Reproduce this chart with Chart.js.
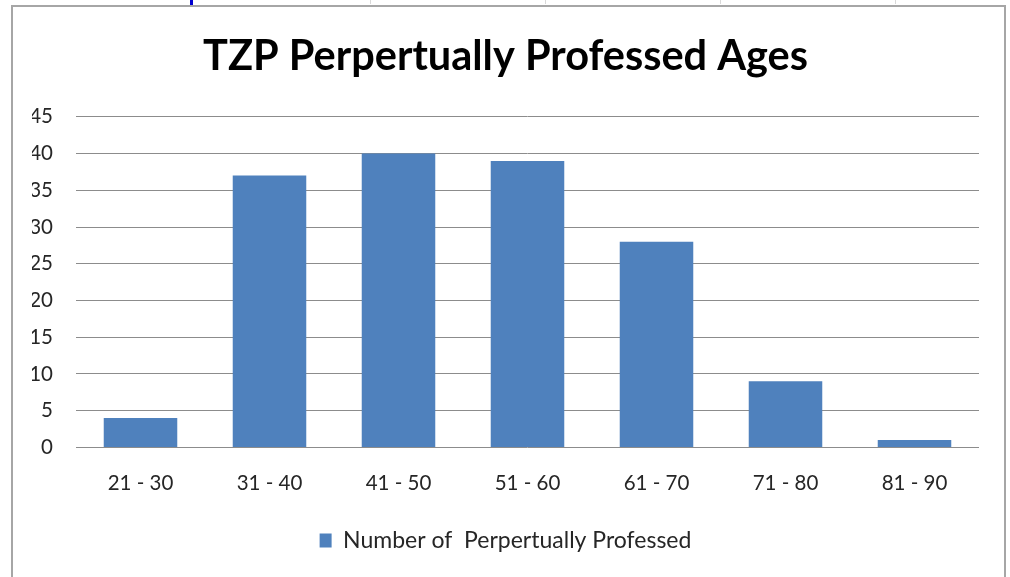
<!DOCTYPE html>
<html>
<head>
<meta charset="utf-8">
<script src="https://cdn.jsdelivr.net/npm/chart.js@4.4.1/dist/chart.umd.min.js"></script>
<style>
  html, body { margin: 0; padding: 0; background: #ffffff; width: 1010px; height: 577px; overflow: hidden; }
  #frame { position: absolute; left: 11px; top: 5px; width: 991px; height: 600px;
           border: 2px solid #a6a6a6; border-bottom: none; background: #ffffff; }
  .cell-h { position: absolute; top: 0; height: 4px; width: 1px; background: #d9d9d9; }
  #wrap { position: absolute; left: 0; top: 0; width: 1010px; height: 577px; }
</style>
</head>
<body>
<div class="cell-h" style="left:370px"></div>
<div class="cell-h" style="left:545px"></div>
<div class="cell-h" style="left:720px"></div>
<div class="cell-h" style="left:895px"></div>
<div style="position:absolute;left:190px;top:0;width:3px;height:5px;background:#0000d0"></div>
<div id="frame"></div>
<div id="wrap"><canvas id="c" width="1010" height="577"></canvas></div>
<script>
const categories = ["21 - 30", "31 - 40", "41 - 50", "51 - 60", "61 - 70", "71 - 80", "81 - 90"];
const seriesName = "Number of  Perpertually Professed";
const values = [4, 37, 40, 39, 28, 9, 1];
const yTicks = [0, 5, 10, 15, 20, 25, 30, 35, 40, 45];
const chartTitle = "TZP Perpertually Professed Ages";

const FONT = "Lato, 'Noto Sans', sans-serif";

new Chart(document.getElementById('c'), {
  type: 'bar',
  data: {
    labels: categories,
    datasets: [{
      label: seriesName,
      data: values,
      backgroundColor: '#4f81bd',
      borderWidth: 0,
      categoryPercentage: 1.0,
      barPercentage: 0.57
    }]
  },
  options: {
    responsive: false,
    animation: false,
    devicePixelRatio: 1,
    layout: { padding: { left: 32, right: 31, top: 0, bottom: 15 } },
    plugins: {
      title: {
        display: true,
        text: chartTitle,
        color: '#000000',
        font: { family: FONT, size: 41.5, weight: 'bold' },
        padding: { top: 32, bottom: 35 }
      },
      legend: {
        display: true,
        position: 'bottom',
        labels: {
          color: '#262626',
          font: { family: FONT, size: 23 },
          boxWidth: 12,
          boxHeight: 14,
          padding: 9
        }
      },
      tooltip: { enabled: false }
    },
    scales: {
      x: {
        grid: { display: false, drawTicks: false },
        border: { display: false },
        ticks: { color: '#262626', font: { family: FONT, size: 20.5 }, padding: 24 }
      },
      y: {
        min: 0, max: 45,
        afterBuildTicks: (s) => { s.ticks = yTicks.map(v => ({ value: v })); },
        afterFit: (s) => { s.width = 44; },
        grid: { color: '#8c8c8c', lineWidth: 1, drawTicks: false },
        border: { display: false },
        ticks: { color: '#262626', font: { family: FONT, size: 20.5 }, padding: 23 }
      }
    }
  }
});
</script>
</body>
</html>
